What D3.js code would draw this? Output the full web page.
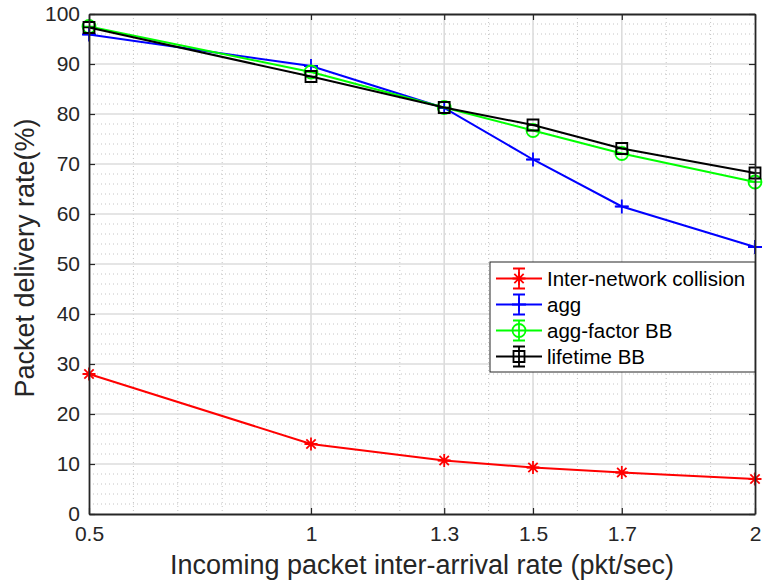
<!DOCTYPE html>
<html>
<head>
<meta charset="utf-8">
<script src="https://cdn.jsdelivr.net/npm/d3@7"></script>
<style>
  body { margin: 0; background: #fff; }
  text { font-family: "Liberation Sans", Arial, Helvetica, sans-serif; fill: #262626; }
</style>
</head>
<body>
<svg id="chart" width="764" height="580"></svg>
<script>
// data
var rates = [0.5, 1, 1.3, 1.5, 1.7, 2];
var xTickValues = [0.5, 1, 1.3, 1.5, 1.7, 2];
var yTickValues = [0, 10, 20, 30, 40, 50, 60, 70, 80, 90, 100];
var interNetwork = [28.0, 14.0, 10.7, 9.3, 8.3, 7.0];
var agg = [95.9, 89.6, 81.2, 70.9, 61.5, 53.4];
var aggFactorBB = [97.5, 88.4, 81.3, 76.7, 72.1, 66.4];
var lifetimeBB = [97.3, 87.5, 81.3, 77.8, 73.1, 68.2];
var seriesNames = ["Inter-network collision", "agg", "agg-factor BB", "lifetime BB"];
var seriesColors = ["#ff0000", "#0000ff", "#00ff00", "#000000"];
var seriesMarkers = ["star", "plus", "circle", "square"];
var seriesValues = [interNetwork, agg, aggFactorBB, lifetimeBB];

var svg = d3.select("#chart");
var plotLeft = 89, plotRight = 755, plotTop = 14, plotBottom = 514;

var x = d3.scaleLinear().domain([0.5, 2]).range([plotLeft, plotRight]);
var y = d3.scaleLinear().domain([0, 100]).range([plotBottom, plotTop]);

svg.append("rect").attr("width", 764).attr("height", 580).attr("fill", "#fff");

// minor grid
var xMinor = d3.range(6, 20).map(function (d) { return d / 10; })
  .filter(function (d) { return xTickValues.indexOf(d) < 0; });
var yMinor = d3.range(2, 100, 2).filter(function (d) { return d % 10 != 0; });

var grid = svg.append("g");
grid.selectAll(".xminor").data(xMinor).enter().append("line")
  .attr("x1", function (d) { return x(d); }).attr("x2", function (d) { return x(d); })
  .attr("y1", plotTop).attr("y2", plotBottom)
  .attr("stroke", "#c4c4c4").attr("stroke-width", 1).attr("stroke-dasharray", "1,3");
grid.selectAll(".yminor").data(yMinor).enter().append("line")
  .attr("x1", plotLeft).attr("x2", plotRight)
  .attr("y1", function (d) { return y(d); }).attr("y2", function (d) { return y(d); })
  .attr("stroke", "#c4c4c4").attr("stroke-width", 1).attr("stroke-dasharray", "1,3");

// major grid
grid.selectAll(".xmajor").data(xTickValues.slice(1, -1)).enter().append("line")
  .attr("x1", function (d) { return x(d); }).attr("x2", function (d) { return x(d); })
  .attr("y1", plotTop).attr("y2", plotBottom)
  .attr("stroke", "#dcdcdc").attr("stroke-width", 1.6);
grid.selectAll(".ymajor").data(yTickValues.slice(1, -1)).enter().append("line")
  .attr("x1", plotLeft).attr("x2", plotRight)
  .attr("y1", function (d) { return y(d); }).attr("y2", function (d) { return y(d); })
  .attr("stroke", "#dcdcdc").attr("stroke-width", 1.6);

// markers
function markerPath(type, r) {
  if (type == "star") {
    var k = r * 0.72;
    return "M" + (-r) + ",0L" + r + ",0M0," + (-r) + "L0," + r +
      "M" + (-k) + "," + (-k) + "L" + k + "," + k + "M" + (-k) + "," + k + "L" + k + "," + (-k);
  }
  if (type == "plus") {
    return "M" + (-r) + ",0L" + r + ",0M0," + (-r) + "L0," + r;
  }
  if (type == "circle") {
    return "M" + r + ",0A" + r + "," + r + " 0 1,1 " + (-r) + ",0A" + r + "," + r + " 0 1,1 " + r + ",0Z";
  }
  return "M" + (-r) + "," + (-r) + "H" + r + "V" + r + "H" + (-r) + "Z";
}
var markerSize = { star: 6.5, plus: 7, circle: 6.5, square: 5.5 };

var line = d3.line()
  .x(function (d, i) { return x(rates[i]); })
  .y(function (d) { return y(d); });

seriesValues.forEach(function (vals, s) {
  var g = svg.append("g");
  g.append("path").datum(vals)
    .attr("d", line)
    .attr("fill", "none")
    .attr("stroke", seriesColors[s])
    .attr("stroke-width", 2);
  // zero-length error bar caps
  g.selectAll(".cap").data(vals).enter().append("line")
    .attr("x1", function (d, i) { return x(rates[i]) - 6; })
    .attr("x2", function (d, i) { return x(rates[i]) + 6; })
    .attr("y1", function (d) { return y(d); })
    .attr("y2", function (d) { return y(d); })
    .attr("stroke", seriesColors[s]).attr("stroke-width", 1.5);
  g.selectAll(".mk").data(vals).enter().append("path")
    .attr("transform", function (d, i) { return "translate(" + x(rates[i]) + "," + y(d) + ")"; })
    .attr("d", markerPath(seriesMarkers[s], markerSize[seriesMarkers[s]]))
    .attr("fill", "none")
    .attr("stroke", seriesColors[s])
    .attr("stroke-width", 1.8);
});

// axes (ticks pointing inward, box on)
function styleAxis(g) {
  g.selectAll("path.domain").attr("stroke", "#262626").attr("stroke-width", 1.8);
  g.selectAll(".tick line").attr("stroke", "#262626").attr("stroke-width", 1.2);
  g.selectAll(".tick text").attr("font-size", 21).attr("fill", "#262626")
    .attr("font-family", "'Liberation Sans', Arial, Helvetica, sans-serif");
}

var xAxis = d3.axisBottom(x).tickValues(xTickValues).tickSize(-6).tickSizeOuter(0).tickPadding(12)
  .tickFormat(function (d) { return d; });
svg.append("g").attr("transform", "translate(0," + plotBottom + ")").call(xAxis).call(styleAxis);

var xAxisTop = d3.axisTop(x).tickValues(xTickValues).tickSize(-6).tickSizeOuter(0).tickFormat("");
svg.append("g").attr("transform", "translate(0," + plotTop + ")").call(xAxisTop).call(styleAxis);

var yAxis = d3.axisLeft(y).tickValues(yTickValues).tickSize(-6).tickSizeOuter(0).tickPadding(9);
svg.append("g").attr("transform", "translate(" + plotLeft + ",0)").call(yAxis).call(styleAxis);

var yAxisRight = d3.axisRight(y).tickValues(yTickValues).tickSize(-6).tickSizeOuter(0).tickFormat("");
svg.append("g").attr("transform", "translate(" + plotRight + ",0)").call(yAxisRight).call(styleAxis);

// axis labels
svg.append("text")
  .attr("x", (plotLeft + plotRight) / 2).attr("y", 574)
  .attr("text-anchor", "middle").attr("font-size", 27)
  .text("Incoming packet inter-arrival rate (pkt/sec)");

svg.append("text")
  .attr("transform", "translate(34,258) rotate(-90)")
  .attr("text-anchor", "middle").attr("font-size", 27)
  .text("Packet delivery rate(%)");

// legend
var legend = svg.append("g").attr("transform", "translate(490,262)");
legend.append("rect")
  .attr("width", 265).attr("height", 110)
  .attr("fill", "#fff").attr("stroke", "#262626").attr("stroke-width", 1);

var items = legend.selectAll(".item").data(seriesNames).enter().append("g")
  .attr("transform", function (d, i) { return "translate(0," + (16.5 + i * 26) + ")"; });
items.append("line")
  .attr("x1", 6).attr("x2", 52).attr("y1", 0).attr("y2", 0)
  .attr("stroke", function (d, i) { return seriesColors[i]; }).attr("stroke-width", 2);
items.append("path")
  .attr("d", "M23,-10H35M29,-10V10M23,10H35")
  .attr("fill", "none")
  .attr("stroke", function (d, i) { return seriesColors[i]; }).attr("stroke-width", 1.8);
items.append("path")
  .attr("transform", "translate(29,0)")
  .attr("d", function (d, i) { return markerPath(seriesMarkers[i], markerSize[seriesMarkers[i]]); })
  .attr("fill", "none")
  .attr("stroke", function (d, i) { return seriesColors[i]; }).attr("stroke-width", 1.8);
items.append("text")
  .attr("x", 57).attr("y", 0).attr("dy", "0.36em")
  .attr("font-size", 20.5).style("fill", "#000")
  .text(function (d) { return d; });
</script>
</body>
</html>
